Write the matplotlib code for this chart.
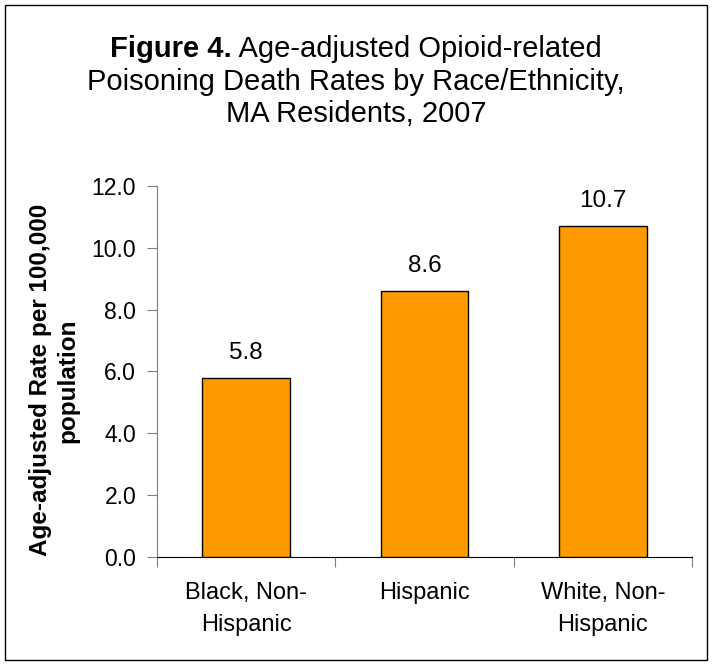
import matplotlib
matplotlib.use("Agg")
import matplotlib.pyplot as plt
from matplotlib.patches import Rectangle

plt.rcParams["font.family"] = ["Liberation Sans", "DejaVu Sans"]

# ---- data ----
groups = ["Black, Non-\nHispanic", "Hispanic", "White, Non-\nHispanic"]
rates = [5.8, 8.6, 10.7]
yticks = [0, 2, 4, 6, 8, 10, 12]

ORANGE = "#FF9900"
AXIS_GRAY = "#808080"

fig = plt.figure(figsize=(7.12, 6.65), dpi=100)
fig.patch.set_facecolor("white")

# thin frame round the whole chart
fig.add_artist(Rectangle((0.007, 0.008), 0.986, 0.984, transform=fig.transFigure,
                         fill=False, ec="black", lw=1.0))

ax = fig.add_axes([0.2205, 0.1624, 0.7514, 0.558])
x = list(range(len(groups)))
bars = ax.bar(x, rates, width=0.49, color=ORANGE, edgecolor="black", linewidth=1.0, zorder=3)

for xi, v in zip(x, rates):
    ax.annotate(f"{v:.1f}", (xi, v), xytext=(0, 10), textcoords="offset points",
                ha="center", va="bottom", fontsize=17.5)

ax.set_xlim(-0.5, len(groups) - 0.5)
ax.set_ylim(0, 12)
ax.set_yticks(yticks)
ax.set_yticklabels([f"{t:.1f}" for t in yticks], fontsize=16.5)
ax.set_xticks([-0.5, 0.5, 1.5, 2.5])
ax.set_xticklabels([])
ax.tick_params(axis="x", length=7, color=AXIS_GRAY, direction="out")
ax.tick_params(axis="y", length=7, color=AXIS_GRAY, direction="out", pad=8)
for xi, g in zip(x, groups):
    ax.text(xi, -0.8, g, ha="center", va="top", fontsize=17, linespacing=1.6)

for s in ["top", "right"]:
    ax.spines[s].set_visible(False)
ax.spines["left"].set_color(AXIS_GRAY)
ax.spines["bottom"].set_color("black")

ax.set_ylabel("Age-adjusted Rate per 100,000\npopulation", fontsize=17.5,
              fontweight="bold", linespacing=1.2)
ax.yaxis.set_label_coords(-0.146, 0.476)

# title: bold "Figure 4." lead-in then regular text
title_y = [0.927, 0.877, 0.828]
fig.text(0.5, title_y[1], "Poisoning Death Rates by Race/Ethnicity,", ha="center",
         va="center", fontsize=21)
fig.text(0.5, title_y[2], "MA Residents, 2007", ha="center", va="center", fontsize=21)
# first line is two runs (bold + regular), centred together
fig.canvas.draw()
r = fig.canvas.get_renderer()
a = fig.text(0, title_y[0], "Figure 4.", fontsize=21, fontweight="bold", va="center")
b = fig.text(0, title_y[0], " Age-adjusted Opioid-related", fontsize=21, va="center")
wa = a.get_window_extent(r).width / fig.bbox.width
wb = b.get_window_extent(r).width / fig.bbox.width
x0 = 0.5 - (wa + wb) / 2
a.set_x(x0)
b.set_x(x0 + wa)

fig.savefig("out.png", dpi=100, facecolor="white")
